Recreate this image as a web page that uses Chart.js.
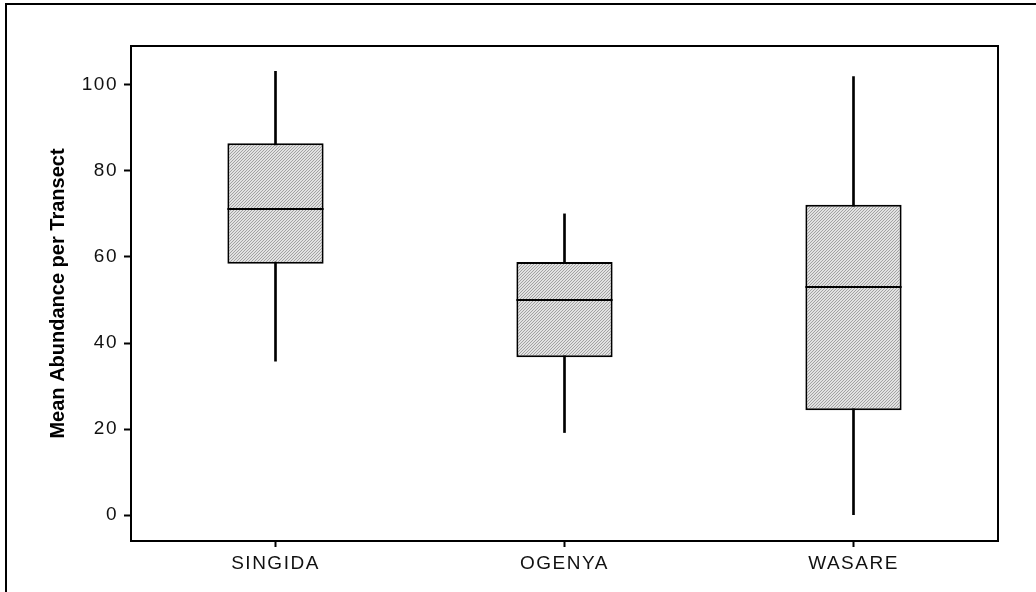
<!DOCTYPE html>
<html>
<head>
<meta charset="utf-8">
<script src="https://cdn.jsdelivr.net/npm/chart.js@4.4.0/dist/chart.umd.min.js"></script>
<style>
  html, body { margin: 0; padding: 0; background: #fff; }
  #wrap { width: 1036px; height: 592px; }
</style>
</head>
<body>
<div id="wrap"><canvas id="chart" width="1036" height="592"></canvas></div>
<script>
const sites = ['SINGIDA', 'OGENYA', 'WASARE'];
const whiskerLow = [35.8, 19.2, 0];
const boxLow = [58.4, 36.7, 24.4];
const medians = [71.1, 49.9, 53.1];
const boxHigh = [86.4, 58.8, 72.1];
const whiskerHigh = [103.1, 70, 101.9];
const yTicks = [0, 20, 40, 60, 80, 100];

// fine diagonal hatch like the original
const makeHatch = () => {
    const c = document.createElement('canvas');
    c.width = 3;
    c.height = 3;
    const g = c.getContext('2d');
    g.fillStyle = '#e2e2e2';
    g.fillRect(0, 0, 3, 3);
    g.fillStyle = '#a2a2a2';
    for (let i = 0; i < 3; i++) {
        g.fillRect(i, 2 - i, 1, 1);
    }
    return g.createPattern(c, 'repeat');
};

// tick labels in the original are letter-spaced, the axis title is not
const spaceText = (chart) => {
    chart.ctx.letterSpacing = '1.5px';
    const s = chart.scales && chart.scales.y;
    if (s && !s._plainTitle) {
        const orig = s.drawTitle.bind(s);
        s.drawTitle = () => {
            const ls = s.ctx.letterSpacing;
            s.ctx.letterSpacing = '0px';
            orig();
            s.ctx.letterSpacing = ls;
        };
        s._plainTitle = true;
    }
};

const framePlugin = {
    id: 'frame',
    beforeUpdate: spaceText,
    beforeLayout: spaceText,
    beforeDraw: spaceText,
    afterDatasetsDraw: (chart) => {
        const ctx = chart.ctx;
        const area = chart.chartArea;
        const y = chart.scales.y;
        const meta = chart.getDatasetMeta(1);

        ctx.save();
        ctx.strokeStyle = '#000';
        ctx.lineWidth = 2;
        meta.data.forEach((bar, i) => {
            const py = Math.round(y.getPixelForValue(medians[i]));
            ctx.beginPath();
            ctx.moveTo(bar.x - bar.width / 2, py);
            ctx.lineTo(bar.x + bar.width / 2, py);
            ctx.stroke();
        });

        ctx.strokeRect(area.left, area.top, area.right - area.left, area.bottom - area.top);

        // outer picture frame (left and top edges only visible)
        ctx.beginPath();
        ctx.moveTo(6, chart.height + 2);
        ctx.lineTo(6, 4);
        ctx.lineTo(chart.width + 2, 4);
        ctx.stroke();
        ctx.restore();
    }
};

new Chart(document.getElementById('chart'), {
    type: 'bar',
    data: {
        labels: sites,
        datasets: [
            {
                label: 'whisker',
                data: sites.map((_, i) => [whiskerLow[i], whiskerHigh[i]]),
                backgroundColor: '#000',
                borderWidth: 0,
                barThickness: 2,
                grouped: false,
                order: 2
            },
            {
                label: 'box',
                data: sites.map((_, i) => [boxLow[i], boxHigh[i]]),
                backgroundColor: makeHatch(),
                borderColor: '#000',
                borderWidth: 2,
                borderSkipped: false,
                categoryPercentage: 1,
                barPercentage: 0.333,
                grouped: false,
                order: 1
            }
        ]
    },
    options: {
        responsive: false,
        animation: false,
        events: [],
        layout: {
            padding: { left: 0, top: 46, right: 38, bottom: 0 }
        },
        plugins: {
            legend: { display: false },
            tooltip: { enabled: false }
        },
        scales: {
            x: {
                offset: true,
                grid: {
                    display: true,
                    offset: false,
                    drawOnChartArea: false,
                    drawTicks: true,
                    tickLength: 6,
                    tickWidth: 2,
                    tickColor: '#000'
                },
                border: { display: true, color: '#000', width: 2 },
                ticks: {
                    color: '#111',
                    padding: 5,
                    font: { family: 'Liberation Sans', size: 19 },
                    maxRotation: 0
                },
                afterFit: (scale) => { scale.height = 51; }
            },
            y: {
                min: -6,
                max: 109,
                afterBuildTicks: (scale) => {
                    scale.ticks = yTicks.map(v => ({ value: v }));
                },
                grid: {
                    display: true,
                    drawOnChartArea: false,
                    drawTicks: true,
                    tickLength: 7,
                    tickWidth: 2,
                    tickColor: '#000'
                },
                border: { display: true, color: '#000', width: 2 },
                ticks: {
                    color: '#111',
                    padding: 6,
                    font: { family: 'Liberation Sans', size: 19 }
                },
                title: {
                    display: true,
                    text: 'Mean Abundance per Transect',
                    color: '#000',
                    font: { family: 'Liberation Sans', size: 20, weight: 'bold' },
                    padding: { top: 46, bottom: 0 }
                },
                afterFit: (scale) => { scale.width = 131; }
            }
        }
    },
    plugins: [framePlugin]
});
</script>
</body>
</html>
